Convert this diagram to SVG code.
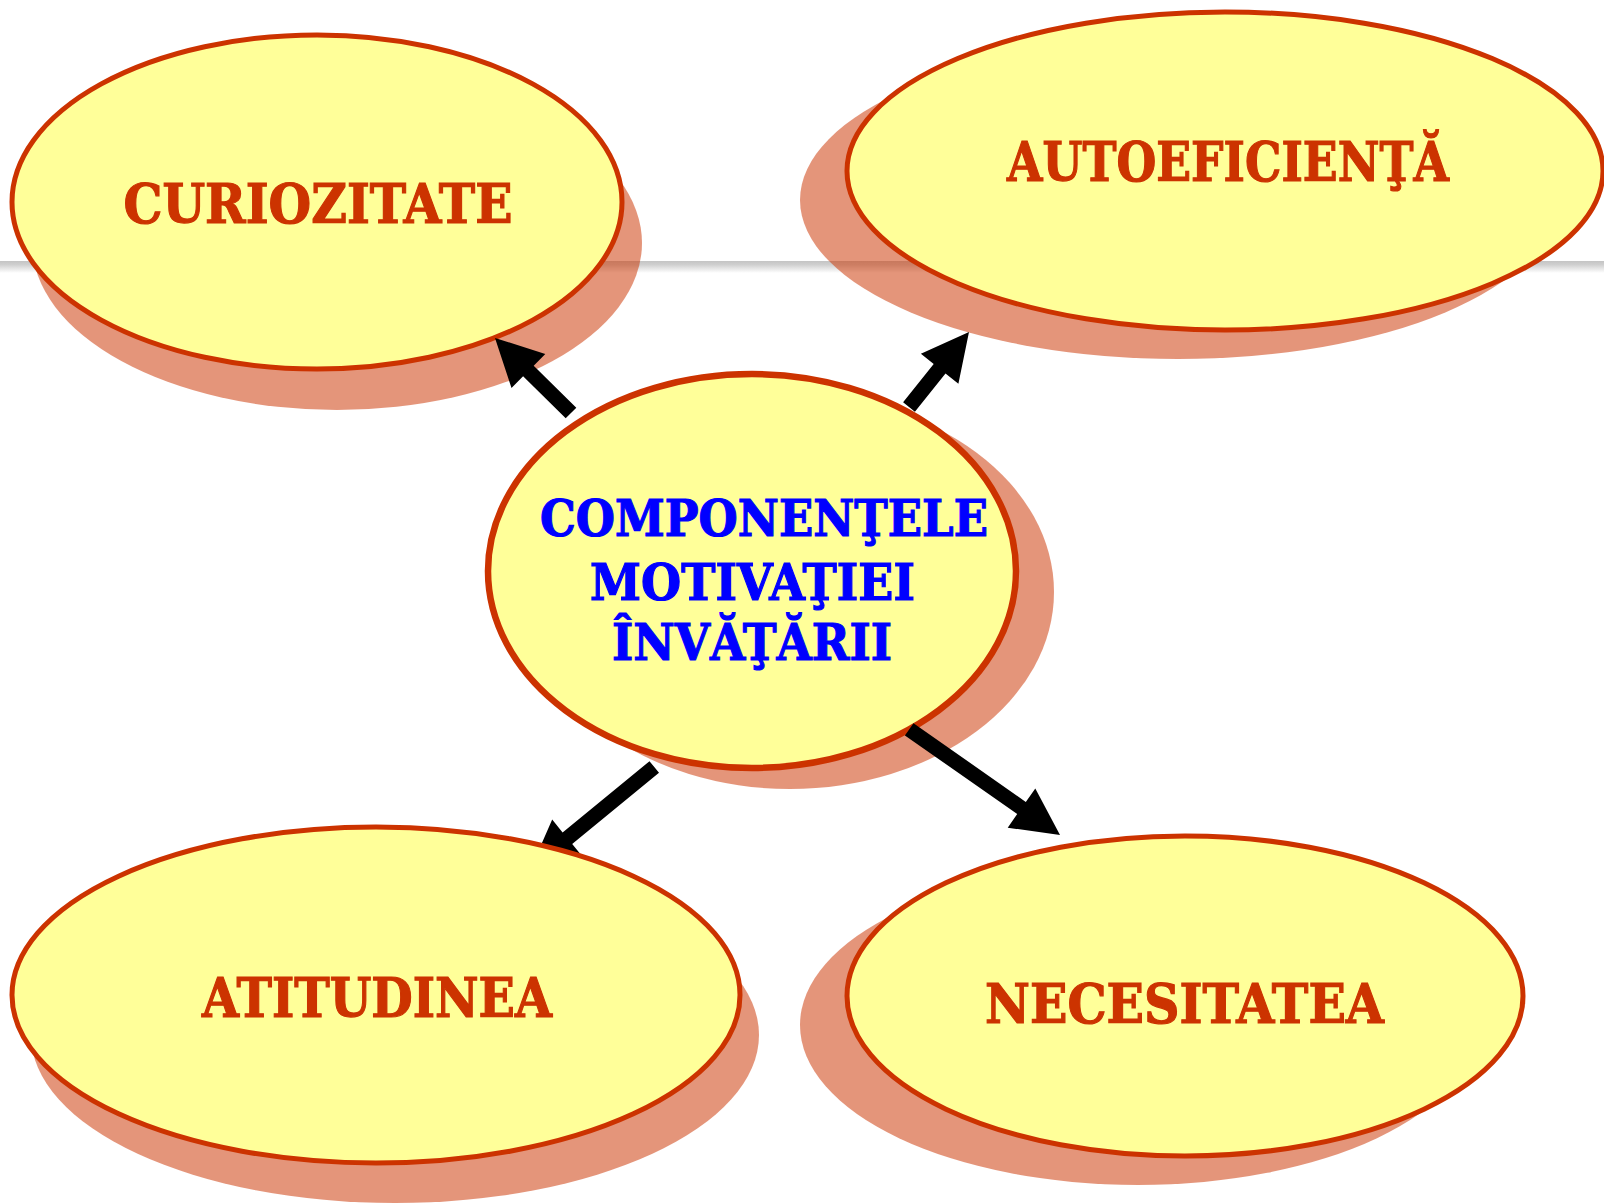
<svg xmlns="http://www.w3.org/2000/svg" width="1604" height="1203" viewBox="0 0 1604 1203">
<defs>
<linearGradient id="rule" x1="0" y1="0" x2="0" y2="1">
<stop offset="0" stop-color="#c4c4c4"/>
<stop offset="0.3" stop-color="#cfcfcf"/>
<stop offset="1" stop-color="#ffffff"/>
</linearGradient>
</defs>
<style>
.shadow{fill:#CC3300;fill-opacity:0.52}
.node{fill:#FFFF99;stroke:#CC3300;stroke-width:5}
.main{stroke-width:6.5}
.lbl{font-family:"DejaVu Serif","Liberation Serif",serif;font-weight:bold;font-size:54px;fill:#CC3300;stroke:#CC3300;stroke-width:1.2;text-anchor:middle}
.ctr{font-family:"DejaVu Serif","Liberation Serif",serif;font-weight:bold;font-size:50px;fill:#0000FF;stroke:#0000FF;stroke-width:1.2;text-anchor:middle}
.arrow{fill:#000000}
</style>
<rect x="0" y="261" width="1604" height="12" fill="url(#rule)"/>
<g id="node-curiozitate">
<ellipse class="shadow" cx="337" cy="243" rx="305" ry="167"/>
<ellipse class="node" cx="317" cy="202" rx="305" ry="167"/>
<text class="lbl" x="318" y="223" textLength="389" lengthAdjust="spacingAndGlyphs">CURIOZITATE</text>
</g>
<g id="node-autoeficienta">
<ellipse class="shadow" cx="1178" cy="200" rx="378" ry="159"/>
<ellipse class="node" cx="1225" cy="171" rx="378" ry="159"/>
<text class="lbl" x="1228" y="181" textLength="442" lengthAdjust="spacingAndGlyphs">AUTOEFICIENŢĂ</text>
</g>
<g id="node-center">
<ellipse class="shadow" cx="790" cy="592" rx="264" ry="197"/>
<ellipse class="node main" cx="752" cy="571" rx="264" ry="197"/>
<text class="ctr" x="764" y="536" textLength="448" lengthAdjust="spacingAndGlyphs">COMPONENŢELE</text>
<text class="ctr" x="752.5" y="600" textLength="325" lengthAdjust="spacingAndGlyphs">MOTIVAŢIEI</text>
<text class="ctr" x="752" y="660" textLength="280" lengthAdjust="spacingAndGlyphs">ÎNVĂŢĂRII</text>
</g>
<g id="connectors">
<polygon class="arrow" points="576.3,407.7 533.7,365.7 545.3,353.9 495,338 511.5,388.1 523.1,376.3 565.7,418.3"/>
<polygon class="arrow" points="914.9,411.7 945.5,373.4 958.4,383.7 969,332 920.9,353.7 933.7,364.0 903.1,402.3"/>
<polygon class="arrow" points="649.5,761.2 562.6,832.4 552.2,819.6 531,868 582.6,856.8 572.2,844.0 659.0,772.8"/>
<polygon class="arrow" points="904.9,735.4 1017.2,814.1 1007.7,827.7 1060,835 1035.3,788.4 1025.8,801.9 913.5,723.2"/>
</g>
<g id="node-atitudinea">
<ellipse class="shadow" cx="395" cy="1035" rx="364" ry="168"/>
<ellipse class="node" cx="376" cy="995" rx="364" ry="168"/>
<text class="lbl" x="377" y="1017" textLength="350" lengthAdjust="spacingAndGlyphs">ATITUDINEA</text>
</g>
<g id="node-necesitatea">
<ellipse class="shadow" cx="1138" cy="1025" rx="338" ry="160"/>
<ellipse class="node" cx="1185" cy="996" rx="338" ry="160"/>
<text class="lbl" x="1184.5" y="1023" textLength="399" lengthAdjust="spacingAndGlyphs">NECESITATEA</text>
</g>
</svg>
